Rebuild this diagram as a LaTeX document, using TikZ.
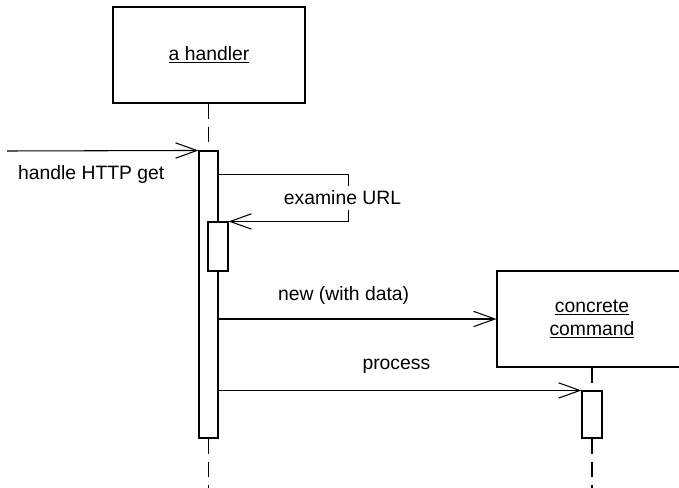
\documentclass[tikz,border=0pt]{standalone}
\usepackage{fontspec}
\setmainfont{Liberation Sans}
\usetikzlibrary{arrows.meta,positioning}
\tikzset{
  sqobj/.style={draw, line width=.8pt, fill=white, align=center, minimum height=72pt},
  sqbar/.style={draw, line width=.8pt, fill=white, minimum width=14.25pt},
  sqline/.style={line width=.8pt, dash pattern=on 11.25pt off 6pt},
  sqmsg/.style={-{Straight Barb[length=16pt, width=11.5pt, line width=.8pt]}, line width=.8pt}
}

\begin{document}
\begin{tikzpicture}[x=.75pt, y=-.75pt, font=\fontsize{14.5}{17.5}\selectfont]
  \clip (0,0) rectangle (679,488);
  \node[sqobj, minimum width=144pt] (hdl) at (209,55) {\underline{a handler}};
  \node[sqbar, minimum height=215.25pt] (hbar) at (208.5,294.5) {};
  \node[sqbar, minimum width=15pt, minimum height=36.75pt] (nbar) at (218,246.5) {};
  \node[sqobj, minimum width=142.5pt] (cmd) at (592,319) {\underline{concrete}\\\underline{command}};
  \node[sqbar, minimum width=15pt, minimum height=35.25pt] (cbar) at (592,414.5) {};
  \coordinate (caller) at (7,151);
  \coordinate (hdlend) at (208.5,488);
  \coordinate (cmdend) at (592,488);
  \draw[sqline] (hbar.north |- hdl.south) -- (hbar.north);
  \draw[sqline] (hbar.south) -- (hdlend);
  \draw[sqline] (cmd.south) -- (cbar.north);
  \draw[sqline] (cbar.south) -- (cmdend);
  \draw[sqmsg] (caller) -- node[pos=.44, yshift=-18pt] {handle HTTP get} (hbar.north west);
  \draw[sqmsg] (hbar.north east) ++(0,24) -- ++(130,0) |- node[pos=.25, fill=white, xshift=-4.5pt] {examine URL} (nbar.north east);
  \draw[sqmsg] (hbar.east |- cmd.west) -- node[pos=.45, yshift=18pt] {new (with data)} (cmd.west);
  \draw[sqmsg] (hbar.east |- cbar.north) -- node[pos=.49, yshift=18pt] {process} (cbar.north west);
\end{tikzpicture}
\end{document}
